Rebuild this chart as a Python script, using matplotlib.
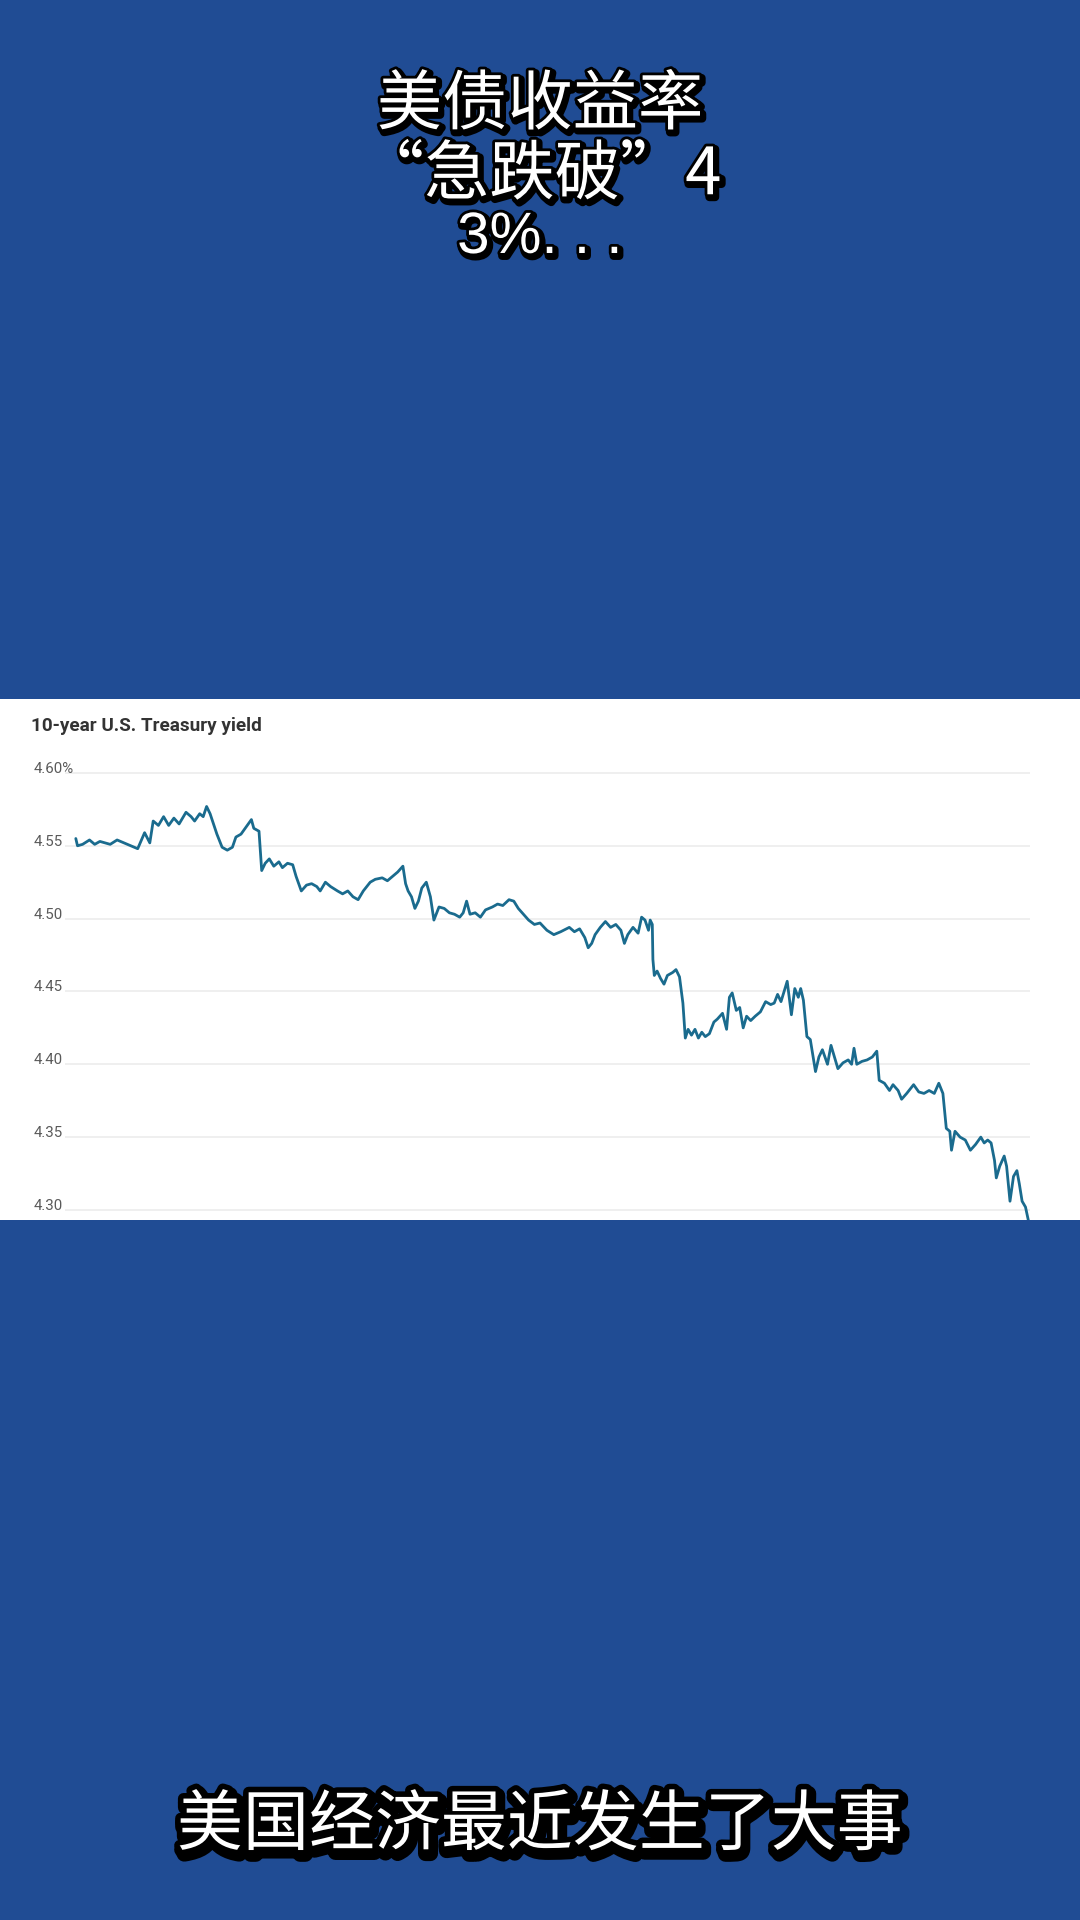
import matplotlib
matplotlib.use("Agg")
import matplotlib.pyplot as plt
from matplotlib.patches import Rectangle
import matplotlib.patheffects as pe

# ---------------- data ----------------
title_lines = ["美债收益率", "“急跌破”4", "3%. . ."]
caption = "美国经济最近发生了大事"
chart_title = "10-year U.S. Treasury yield"
ytick_values = [4.30, 4.35, 4.40, 4.45, 4.50, 4.55, 4.60]
ytick_labels = ["4.30", "4.35", "4.40", "4.45", "4.50", "4.55", "4.60%"]

# time steps (arbitrary intraday units) and 10-year yield (%)
time_steps = [
    0, 1.7, 6.8, 13.7, 18.9, 24.1, 34.4, 41.3, 51.6, 61.9,
    68.8, 74.0, 77.4, 82.6, 87.8, 92.9, 98.1, 103.3, 110.2, 115.3,
    118.8, 123.9, 127.4, 130.8, 134.3, 141.1, 146.3, 151.5, 156.6, 160.1,
    165.2, 170.4, 175.6, 178.0, 183.2, 185.9, 189.4, 193.5, 198.0, 203.1,
    206.6, 211.7, 216.9, 220.3, 225.5, 230.7, 235.8, 241.0, 244.4, 249.6,
    254.8, 261.7, 266.8, 272.0, 277.2, 282.3, 287.5, 294.4, 299.5, 306.4,
    311.6, 316.8, 321.9, 327.1, 329.8, 332.3, 335.7, 339.1, 342.6, 346.0,
    350.5, 354.6, 358.1, 363.2, 368.4, 373.6, 378.7, 383.9, 387.4, 390.8,
    394.2, 399.4, 404.6, 409.7, 416.6, 421.8, 427.0, 433.2, 438.0, 442.5,
    447.6, 452.8, 458.6,
    464.2, 471.1, 478.0, 484.9, 493.5, 498.6, 503.8, 509.0, 512.4, 515.9,
    519.3, 524.5, 529.6, 534.8, 540.0, 545.1, 548.6, 552.0, 557.2, 562.3,
    565.8, 569.2, 572.7, 574.4, 576.5, 577.1, 578.5, 581.3, 584.7, 588.2,
    591.6, 596.8, 600.2, 603.7, 607.1, 609.5, 612.3, 615.7, 619.2, 622.6,
    626.0, 629.5, 633.6, 638.1, 641.5, 646.7, 650.8, 653.6, 656.4, 660.5,
    663.9, 667.4, 670.8, 674.9, 679.4, 684.6, 689.8, 694.9, 698.4, 701.8,
    705.2, 708.7, 711.4, 715.6, 719.0, 722.5, 724.9, 727.6, 731.1, 734.5,
    739.7, 743.1, 746.6, 751.7, 755.2, 758.6, 762.1, 767.2, 772.4, 775.8,
    778.2, 781.0, 786.2, 791.3, 796.5, 801.0, 803.4, 808.6, 813.7, 817.2,
    822.3, 825.8, 830.9, 837.8, 843.0, 848.2, 853.3, 858.5, 863.0, 867.1,
    870.5, 874.0, 875.7, 879.2, 884.3, 889.5, 894.6, 899.8, 905.0, 908.4,
    911.9, 915.3, 918.7, 920.5, 923.9, 928.4, 930.8, 934.2, 937.7, 941.1,
    943.5, 946.3, 949.7, 952.5,
]
yield_pct = [
    4.555, 4.550, 4.551, 4.554, 4.551, 4.553, 4.551, 4.554, 4.551, 4.548,
    4.559, 4.552, 4.567, 4.564, 4.570, 4.564, 4.569, 4.565, 4.573, 4.570,
    4.567, 4.572, 4.570, 4.577, 4.572, 4.558, 4.549, 4.547, 4.549, 4.556,
    4.558, 4.563, 4.568, 4.562, 4.560, 4.533, 4.538, 4.541, 4.536, 4.539,
    4.535, 4.538, 4.537, 4.529, 4.519, 4.523, 4.524, 4.522, 4.519, 4.525,
    4.522, 4.519, 4.517, 4.519, 4.515, 4.513, 4.519, 4.525, 4.527, 4.528,
    4.526, 4.529, 4.532, 4.536, 4.524, 4.519, 4.515, 4.507, 4.512, 4.521,
    4.525, 4.515, 4.499, 4.508, 4.507, 4.504, 4.503, 4.501, 4.504, 4.512,
    4.503, 4.504, 4.501, 4.506, 4.508, 4.510, 4.509, 4.513, 4.512, 4.507,
    4.503, 4.499, 4.496,
    4.497, 4.492, 4.489, 4.491, 4.494, 4.491, 4.493, 4.487, 4.480, 4.483,
    4.489, 4.494, 4.498, 4.494, 4.496, 4.492, 4.483, 4.489, 4.494, 4.490,
    4.501, 4.499, 4.492, 4.499, 4.496, 4.472, 4.461, 4.464, 4.459, 4.455,
    4.461, 4.463, 4.465, 4.460, 4.442, 4.418, 4.424, 4.420, 4.424, 4.418,
    4.422, 4.419, 4.421, 4.429, 4.431, 4.435, 4.424, 4.446, 4.449, 4.437,
    4.439, 4.425, 4.433, 4.430, 4.433, 4.436, 4.443, 4.441, 4.442, 4.448,
    4.443, 4.451, 4.457, 4.434, 4.452, 4.446, 4.452, 4.444, 4.419, 4.417,
    4.395, 4.405, 4.410, 4.400, 4.413, 4.405, 4.397, 4.401, 4.403, 4.400,
    4.411, 4.400, 4.402, 4.403, 4.405, 4.409, 4.389, 4.387, 4.382, 4.386,
    4.382, 4.376, 4.380, 4.386, 4.381, 4.380, 4.382, 4.380, 4.387, 4.380,
    4.356, 4.354, 4.341, 4.354, 4.350, 4.348, 4.341, 4.345, 4.350, 4.346,
    4.348, 4.346, 4.334, 4.322, 4.330, 4.337, 4.330, 4.306, 4.323, 4.327,
    4.318, 4.306, 4.302, 4.293,
]

# ---------------- layout helpers ----------------
W, H, DPI = 1080, 1920, 100
BG = "#204c94"


def fx(x):
    return x / W


def fy(y):
    return 1 - y / H


fig = plt.figure(figsize=(W / DPI, H / DPI), dpi=DPI, facecolor=BG)

# white chart panel (behind the axes)
panel_top, panel_bot = 699, 1220
fig.patches.append(Rectangle((0, fy(panel_bot)), 1, (panel_bot - panel_top) / H,
                             transform=fig.transFigure, facecolor="white",
                             edgecolor="none", zorder=-5))

# axes
ax_left, ax_right, ax_top = 65, 1030, 760
ax = fig.add_axes([fx(ax_left), fy(panel_bot), (ax_right - ax_left) / W,
                   (panel_bot - ax_top) / H])
ax.set_zorder(2)
ax.set_facecolor("none")
ax.plot(time_steps, yield_pct, color="#1a6b8e", lw=2.0,
        solid_joinstyle="round", solid_capstyle="round", zorder=3)
ax.set_xlim(-10.8, 954.2)
ax.set_ylim(4.2931, 4.6089)
for s in ax.spines.values():
    s.set_visible(False)
ax.set_xticks([])
ax.set_yticks(ytick_values, ytick_labels)
ax.set_axisbelow(True)
ax.yaxis.grid(True, color="#ebebeb", lw=1.1)
ax.tick_params(axis="y", length=0, pad=31 * 0.72, labelsize=10.8,
               labelcolor="#5a5a5a")
for lab in ax.get_yticklabels():
    lab.set_horizontalalignment("left")
    lab.set_verticalalignment("baseline")
    lab.set_fontfamily("Roboto")

fig.text(fx(31), fy(731), chart_title, ha="left", va="baseline",
         fontsize=13.6, fontweight="bold", color="#333333", family="Roboto",
         zorder=3)

# ---------------- Chinese headline and caption ----------------
cjk = ["Noto Sans CJK SC", "DejaVu Sans"]
latin = ["Liberation Sans", "Noto Sans CJK SC"]
head_fx = [pe.Stroke(linewidth=6, foreground="black", offset=(1.5, -2)),
           pe.Stroke(linewidth=4, foreground="black"), pe.Normal()]
head_specs = [(106, cjk, 47), (176, cjk, 47), (238, latin, 42)]
for txt, (yc, fam, fs) in zip(title_lines, head_specs):
    fig.text(0.5, fy(yc), txt, ha="center", va="center", fontsize=fs,
             color="white", family=fam, path_effects=head_fx, zorder=3)

cap_fx = [pe.Stroke(linewidth=11, foreground="black", offset=(1.5, -3)),
          pe.Stroke(linewidth=8, foreground="black"), pe.Normal()]
fig.text(0.5, fy(1826), caption, ha="center", va="center", fontsize=47.5,
         color="white", family=cjk, path_effects=cap_fx, zorder=3)

fig.savefig("out.png", dpi=DPI, facecolor=BG)
